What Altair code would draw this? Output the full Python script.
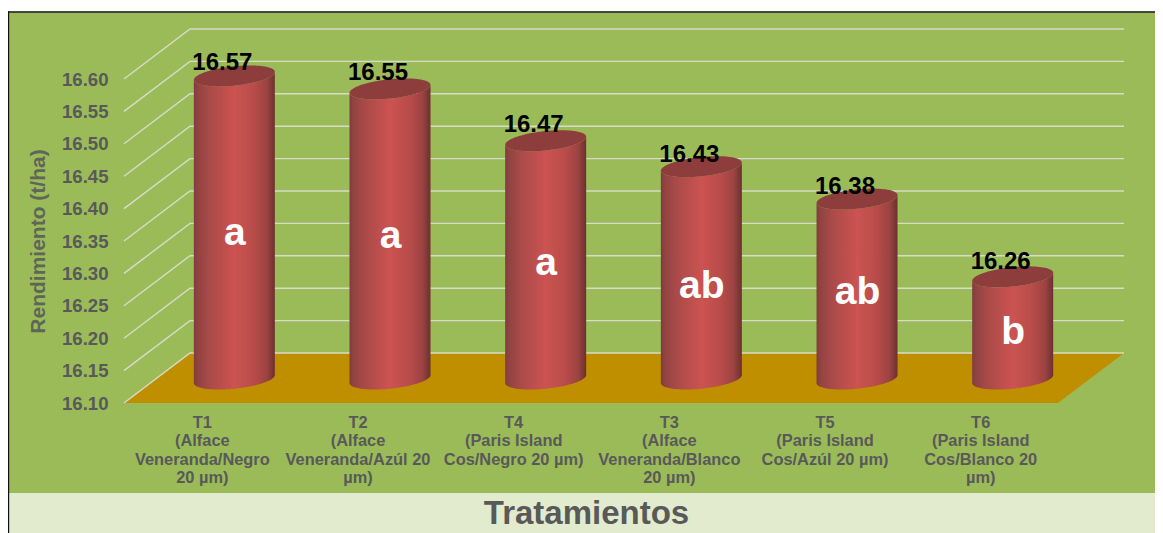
import json
import math
import altair as alt
import pandas as pd

# ---- chart values ----
treatments = ["T1", "T2", "T4", "T3", "T5", "T6"]
descriptions = [
    ["T1", "(Alface", "Veneranda/Negro", "20 µm)"],
    ["T2", "(Alface", "Veneranda/Azúl 20", "µm)"],
    ["T4", "(Paris Island", "Cos/Negro 20 µm)"],
    ["T3", "(Alface", "Veneranda/Blanco", "20 µm)"],
    ["T5", "(Paris Island", "Cos/Azúl 20 µm)"],
    ["T6", "(Paris Island", "Cos/Blanco 20", "µm)"],
]
yields = [16.57, 16.55, 16.47, 16.43, 16.38, 16.26]
value_label_levels = [16.6247, 16.6093, 16.529, 16.4827, 16.4333, 16.3176]
letters = ["a", "a", "a", "ab", "ab", "b"]
letter_levels = [16.363, 16.358, 16.316, 16.281, 16.272, 16.209]
ticks = [16.10, 16.15, 16.20, 16.25, 16.30, 16.35, 16.40, 16.45, 16.50, 16.55, 16.60]

# ---- layout ----
W, H = 1147, 525
X0, SLOT = 116.0, 155.67      # pixel of slot 0, pixels per category
Y0, UNIT = 395.0, 648.0       # pixel of 16.10, pixels per yield unit
BASE = 16.10
DX, DY = 66 / SLOT, 50 / UNIT  # depth of the 3-D box
R = 40.5 / SLOT
B = 9.7 / UNIT
TILT = 4 / UNIT

x_scale = alt.Scale(domain=[-X0 / SLOT, (W - X0) / SLOT], range=[0, W], nice=False, zero=False)
y_scale = alt.Scale(domain=[BASE - (H - Y0) / UNIT, BASE + Y0 / UNIT], range=[H, 0], nice=False, zero=False)

GREY = "#595959"
FONT = "Liberation Sans"
one = pd.DataFrame({"a": [0]})

label_expr = json.dumps(descriptions, ensure_ascii=False) + "[floor(datum.value)]"
x_enc = alt.X(
    "x:Q", scale=x_scale,
    axis=alt.Axis(
        values=[i + 0.5 for i in range(6)], labelExpr=label_expr, orient="bottom",
        offset=-(H - Y0), domain=False, ticks=False, grid=False, labelOverlap=False,
        labelFlush=False, labelFontSize=16.4, labelFontWeight="bold", labelColor=GREY,
        labelFont=FONT, labelPadding=11, labelLineHeight=18.6, labelBaseline="top",
        title="Tratamientos", titleFontSize=33, titleFontWeight="bold", titleColor=GREY,
        titleFont=FONT, titleX=578, titleY=110, titleAlign="center", titleBaseline="middle",
        titleAnchor="start", zindex=1,
    ),
)
y_enc = alt.Y(
    "y:Q", scale=y_scale, stack=None,
    axis=alt.Axis(
        values=ticks, format=".2f", orient="left", offset=-105, domain=False, ticks=False,
        grid=False, labelFontSize=18.6, labelFontWeight="bold", labelColor=GREY, labelFont=FONT,
        labelPadding=5, labelOverlap=False, labelFlush=False,
        title="Rendimiento (t/ha)", titleFontSize=21, titleFontWeight="bold", titleColor="#5E6658",
        titleFont=FONT, titleX=-75, titleY=233, titleAlign="center", titleBaseline="middle",
        titleAngle=270, titleAnchor="start", zindex=1,
    ),
)

# ---- frame ----
panel = alt.Chart(one).mark_rect(color="#9BBB59").encode(
    x=alt.value(1), x2=alt.value(W), y=alt.value(4.5), y2=alt.value(485))
band = alt.Chart(one).mark_rect(color="#E2EBCD").encode(
    x=alt.value(1), x2=alt.value(W), y=alt.value(485), y2=alt.value(H))
edge_top = alt.Chart(one).mark_rect(color="#111111").encode(
    x=alt.value(0), x2=alt.value(W), y=alt.value(3.3), y2=alt.value(4.7))
edge_left = alt.Chart(one).mark_rect(color="#111111").encode(
    x=alt.value(0), x2=alt.value(1.2), y=alt.value(3.3), y2=alt.value(H))

# ---- floor ----
floor_df = pd.DataFrame({
    "x": [0, DX, 6, 6 + DX],
    "y": [BASE, BASE + DY, BASE + DY, BASE + DY],
    "y2": [BASE, BASE, BASE, BASE + DY],
})
floor = alt.Chart(floor_df).mark_area(color="#BF8F00", orient="vertical").encode(
    x=alt.X("x:Q", scale=x_scale), y=alt.Y("y:Q", scale=y_scale, stack=None), y2="y2:Q")

# ---- grid ----
grid_rows = []
for t in ticks:
    grid_rows += [
        {"tick": t, "x": 0, "y": t, "o": 0},
        {"tick": t, "x": DX, "y": t + DY, "o": 1},
        {"tick": t, "x": 6 + DX, "y": t + DY, "o": 2},
    ]
grid = alt.Chart(pd.DataFrame(grid_rows)).mark_line(color="#D6DCC8", strokeWidth=1.4).encode(
    x=alt.X("x:Q", scale=x_scale), y=alt.Y("y:Q", scale=y_scale, stack=None),
    detail="tick:N", order="o:Q")

# ---- cylinders ----
body_rows, cap_rows = [], []
N = 48
for i, v in enumerate(yields):
    cx = i + 0.5 + DX / 2 - 0.5 / SLOT
    base = BASE + 24 / UNIT
    top = v + 22.5 / UNIT
    for k in range(N + 1):
        a = math.pi * (1 - k / N)
        u, w = math.cos(a), math.sin(a)
        x = cx + R * u
        tilt = TILT * u
        body_rows.append({"c": i, "x": x, "y": top + tilt - B * w, "y2": base + tilt - B * w})
        cap_rows.append({"c": i, "x": x, "y": top + tilt + B * w, "y2": top + tilt - B * w})

body_grad = alt.Gradient(
    gradient="linear", x1=0, x2=1, y1=0, y2=0,
    stops=[
        alt.GradientStop(color="#7E3C3B", offset=0),
        alt.GradientStop(color="#8F4241", offset=0.04),
        alt.GradientStop(color="#A84A48", offset=0.18),
        alt.GradientStop(color="#CC5351", offset=0.5),
        alt.GradientStop(color="#B84C4A", offset=0.74),
        alt.GradientStop(color="#9C4341", offset=0.9),
        alt.GradientStop(color="#6A312F", offset=1),
    ])
bodies = alt.Chart(pd.DataFrame(body_rows)).mark_area(color=body_grad, orient="vertical").encode(
    x=alt.X("x:Q", scale=x_scale), y=alt.Y("y:Q", scale=y_scale, stack=None), y2="y2:Q",
    detail="c:N")
caps = alt.Chart(pd.DataFrame(cap_rows)).mark_area(color="#8E3D3D", orient="vertical").encode(
    x=alt.X("x:Q", scale=x_scale), y=alt.Y("y:Q", scale=y_scale, stack=None), y2="y2:Q",
    detail="c:N")

# ---- texts ----
value_df = pd.DataFrame({
    "x": [i + 0.5 + DX / 2 - 12.5 / SLOT for i in range(6)],
    "y": value_label_levels,
    "t": [f"{v:.2f}" for v in yields],
})
value_text = alt.Chart(value_df).mark_text(
    font=FONT, fontWeight="bold", fontSize=24, color="#000000", baseline="middle", align="center"
).encode(x=alt.X("x:Q", scale=x_scale), y=alt.Y("y:Q", scale=y_scale, stack=None), text="t:N")

letter_df = pd.DataFrame({
    "x": [i + 0.5 + DX / 2 for i in range(6)],
    "y": letter_levels,
    "t": letters,
})
letter_text = alt.Chart(letter_df).mark_text(
    font=FONT, fontWeight="bold", fontSize=39, color="#FFFFFF", baseline="middle", align="center"
).encode(x=alt.X("x:Q", scale=x_scale), y=alt.Y("y:Q", scale=y_scale, stack=None), text="t:N")

axes_holder = alt.Chart(floor_df).mark_area(opacity=0, orient="vertical").encode(
    x=x_enc, y=y_enc, y2="y2:Q")

chart = alt.layer(
    panel, band, edge_top, edge_left, axes_holder,
    floor, grid, bodies, caps, value_text, letter_text,
).properties(
    width=W, height=H, padding=0, background="#FFFFFF",
    autosize=alt.AutoSizeParams(type="none"),
).configure_view(stroke=None)

chart.save("out.html", embed_options={"renderer": "svg", "actions": False})
